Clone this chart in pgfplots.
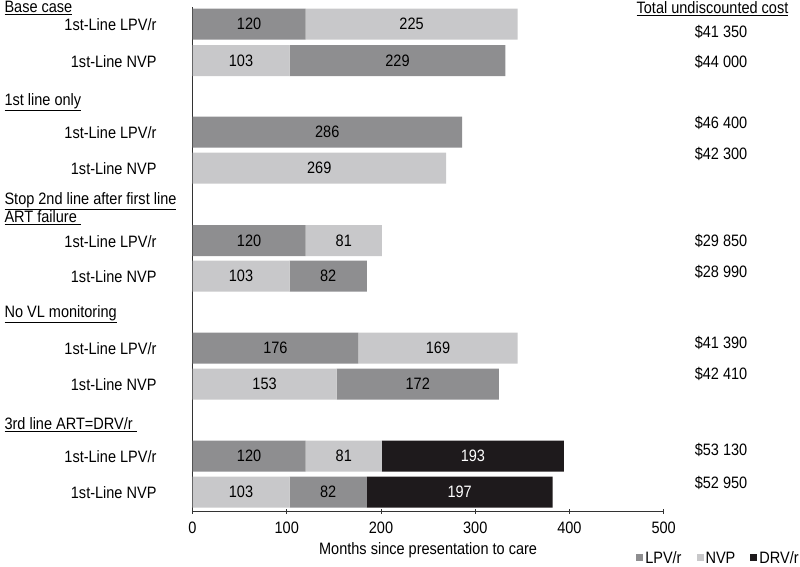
\documentclass[border=0pt]{standalone}
\usepackage{fontspec}
\setmainfont{Liberation Sans}[FakeStretch=0.88]
\usepackage{pgfplots}
\usepackage{pgfplotstable}
\pgfplotsset{compat=1.18}
\definecolor{lpv}{RGB}{142,142,144}
\definecolor{nvp}{RGB}{200,200,202}
\definecolor{drv}{RGB}{30,26,28}
\pgfplotstableread{
y a b c d e
24 120 0 0 225 0
60.5 0 103 229 0 0
132 286 0 0 0 0
168 0 269 0 0 0
240.5 120 0 0 81 0
276 0 103 82 0 0
348 176 0 0 169 0
384 0 153 172 0 0
456 120 0 0 81 193
492 0 103 82 0 197
}\data
\begin{document}
\begin{tikzpicture}[font=\fontsize{16.5}{18}\selectfont]
\path[use as bounding box] (0,0) rectangle (800pt,-567pt);
\begin{axis}[
  at={(192.5pt,-7pt)}, anchor=north west,
  scale only axis, width=471.2pt, height=504pt,
  xbar stacked, bar width=31,
  y dir=reverse, ymin=7, ymax=511,
  xmin=0, xmax=500,
  axis x line=bottom, axis y line=left,
  axis line style={-, black!80, line width=0.8pt},
  xtick={0,100,...,500},
  tick align=center, major tick length=5pt,
  x tick style={black!80, line width=0.8pt},
  x tick label style={yshift=-5pt},
  ytick={24,60.5,132,168,240.5,276,348,384,456,492},
  yticklabels={1st-Line LPV/r,1st-Line NVP,1st-Line LPV/r,1st-Line NVP,1st-Line LPV/r,1st-Line NVP,1st-Line LPV/r,1st-Line NVP,1st-Line LPV/r,1st-Line NVP},
  y tick style={draw=none},
  y tick label style={xshift=-30pt, yshift=-1pt},
  /pgf/number format/assume math mode=true,
  xlabel={Months since presentation to care},
  xlabel style={yshift=-2pt},
  nodes near coords={\pgfmathfloatifflags{\pgfplotspointmeta}{0}{}{\pgfmathprintnumber{\pgfplotspointmeta}}},
  every node near coord/.append style={anchor=center, font=\fontsize{16.5}{18}\selectfont},
  legend columns=3,
  legend style={draw=none, at={(1.289,-0.097)}, anchor=east, font=\fontsize{16.5}{18}\selectfont,
    nodes={inner sep=1pt, text height=0.75em, text depth=0.2em},
    /tikz/every odd column/.append style={column sep=1pt},
    /tikz/every even column/.append style={column sep=14pt}, inner sep=0pt},
  legend image code/.code={\fill[#1] (0pt,-0.5pt) rectangle (7pt,6.5pt);},
  clip=false,
]
\addplot[fill=lpv, draw=none] table[x=a, y=y] {\data};
\addplot[fill=nvp, draw=none] table[x=b, y=y] {\data};
\addplot[fill=lpv, draw=none] table[x=c, y=y] {\data};
\addplot[fill=nvp, draw=none] table[x=d, y=y] {\data};
\addplot[fill=drv, draw=none, every node near coord/.append style={text=white}] table[x=e, y=y] {\data};
\legend{LPV/r,NVP,,,DRV/r}
\end{axis}
\node[anchor=west] at (1pt,-8pt) {\underline{Base case}};
\node[anchor=west] at (1pt,-102pt) {\underline{1st line only}};
\node[anchor=west] at (1pt,-201pt) {\underline{Stop 2nd line after first line}};
\node[anchor=west] at (1pt,-217.5pt) {\underline{ART failure\ }};
\node[anchor=west] at (1pt,-314pt) {\underline{No VL monitoring}};
\node[anchor=west] at (1pt,-425pt) {\underline{3rd line ART=DRV/r\ }};
\node at (712.5pt,-9pt) {\underline{Total undiscounted cost}};
\node at (721pt,-32pt) {\$41 350};
\node at (721pt,-62pt) {\$44 000};
\node at (721pt,-123pt) {\$46 400};
\node at (721pt,-154pt) {\$42 300};
\node at (721pt,-240.5pt) {\$29 850};
\node at (721pt,-272pt) {\$28 990};
\node at (721pt,-343pt) {\$41 390};
\node at (721pt,-374pt) {\$42 410};
\node at (721pt,-450pt) {\$53 130};
\node at (721pt,-483pt) {\$52 950};
\end{tikzpicture}
\end{document}
